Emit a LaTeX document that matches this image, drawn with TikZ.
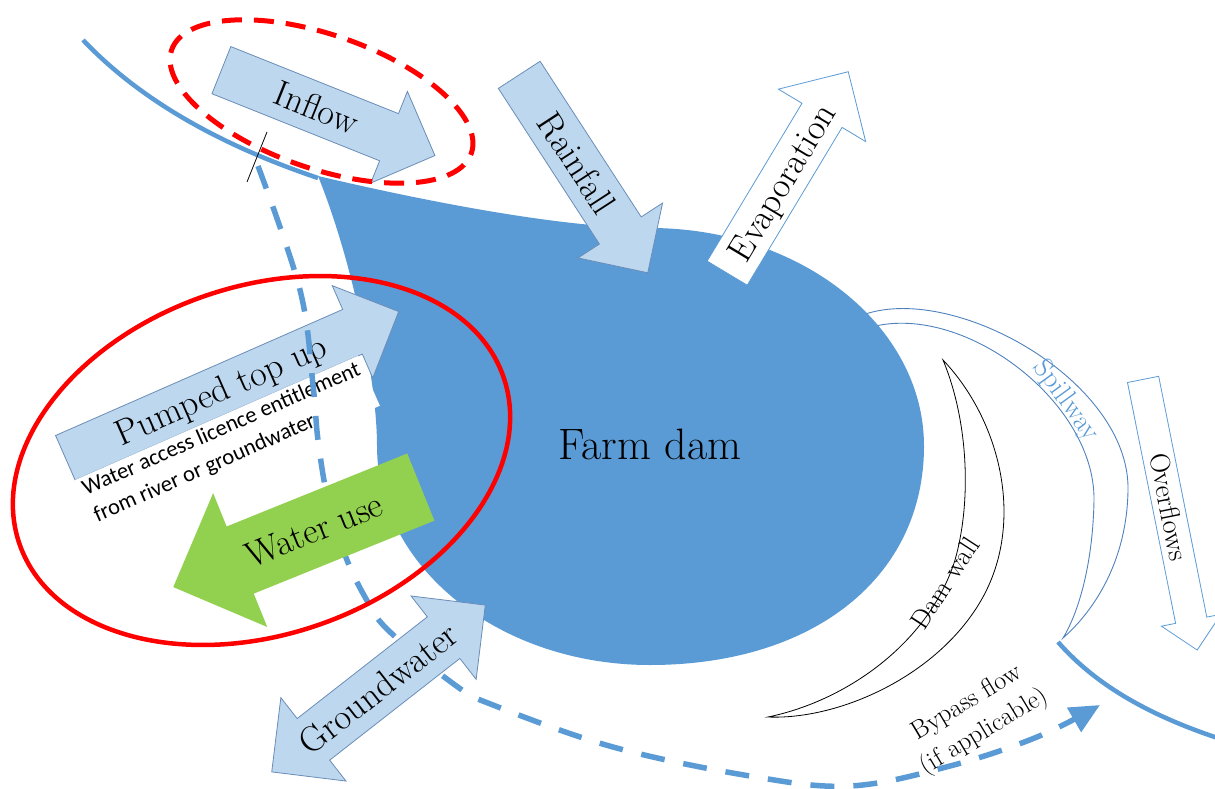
\documentclass[tikz,border=0pt]{standalone}
\usepackage{fontspec}
\newfontfamily\notefont{Carlito}
\usetikzlibrary{arrows.meta,shapes.arrows,shapes.geometric,calc}

\definecolor{damblue}{HTML}{5B9BD5}
\definecolor{paleblue}{HTML}{BDD7EE}
\definecolor{edgeblue}{HTML}{6A8DB8}
\definecolor{usegreen}{HTML}{92D050}
\definecolor{lineblue}{HTML}{4F81BD}

\newcommand{\flowfont}{\fontsize{36}{40}\selectfont}
\newcommand{\smallflowfont}{\fontsize{28}{32}\selectfont}

\begin{document}
\begin{tikzpicture}[x=1pt,y=-1pt,
    river/.style={draw=damblue,line width=4.5pt},
    bypass/.style={draw=damblue,line width=5.5pt,dash pattern=on 24pt off 19pt},
    ring/.style={ellipse,draw=red,inner sep=0pt,line width=4.5pt}]
\useasboundingbox (0,0) rectangle (1215,789);

% spillway channel, partly under the dam
\draw[lineblue,line width=0.9pt]
    (860,316) .. controls (950,280) and (1130,380) .. (1128,490)
              .. controls (1127,560) and (1095,610) .. (1063,638)
              .. controls (1080,610) and (1093,560) .. (1094,500)
              .. controls (1095,400) and (960,300) .. (868,328);

% river
\draw[river] (83,40) .. controls (140,100) and (220,145) .. (318,178);
\draw[river] (1058,642) .. controls (1100,690) and (1160,720) .. (1230,742);

% farm dam
\fill[damblue] (318,176) .. controls (420,200) and (560,228) .. (650,228)
    .. controls (801,228) and (924,326) .. (924,446)
    .. controls (924,577) and (814,665) .. (650,665)
    .. controls (499,665) and (377,567) .. (377,446)
    .. controls (377,380) and (352,260) .. cycle;
\node[font=\fontsize{44}{48}\selectfont] (dam) at (650,444) {Farm dam};

% dam wall
\draw[fill=white,line width=0.8pt] (943,360) .. controls (1000,420) and (1025,520) .. (983,597)
    .. controls (940,675) and (840,720) .. (768,717)
    .. controls (850,700) and (930,640) .. (955,560)
    .. controls (972,500) and (968,420) .. cycle;
\node[rotate=57,font=\fontsize{27}{30}\selectfont] (wall) at (945,583) {Dam wall};
\node[rotate=-54,font=\smallflowfont] (spill) at (1066,401) {\textcolor{damblue}{Spillway}};

% flows in and out
\begin{scope}[every node/.style={single arrow,single arrow tip angle=90,draw=edgeblue,
              fill=paleblue,line width=0.8pt,inner ysep=0pt,inner xsep=2pt,font=\flowfont}]
    \node[rotate=-21.8,anchor=tail,minimum height=230pt,single arrow head extend=24pt,
          text height=37pt,text depth=13pt] (inflow) at (221,70) {Inflow};
    \node[rotate=-57,anchor=tail,minimum height=236pt,single arrow head extend=25.5pt,
          text height=36.5pt,text depth=12.5pt] (rain) at (519,74.5) {Rainfall};
    \node[rotate=59,anchor=tail,minimum height=235pt,single arrow head extend=27.5pt,
          text height=35pt,text depth=11pt,fill=white,draw=damblue] (evap) at (727,273.5) {Evaporation};
    \node[rotate=-78.7,anchor=tail,minimum height=276pt,single arrow head extend=14.5pt,
          text height=24.5pt,text depth=6.5pt,fill=white,draw=damblue,font=\smallflowfont] (over) at (1143,379) {Overflows};
    \node[rotate=23.7,anchor=tail,minimum height=364pt,single arrow head extend=26pt,
          text height=36pt,text depth=12pt] (pump) at (65,458) {Pumped top up};
\end{scope}

\node[rotate=23.7,anchor=north west,fill=white,inner xsep=4pt,inner ysep=3pt,align=left,
      font={\notefont\fontsize{22.5}{29}\selectfont}] (licence)
      at ($(pump.tail)!24pt!-90:(pump.tip)$)
      {Water access licence entitlement\\from river or groundwater};

% bypass flow
\coordinate (offtake) at (258,166);
\coordinate (bypassend) at (1100,705);
\draw[bypass,-{Triangle[length=30pt,width=27pt]}] plot[smooth,tension=0.6] coordinates
    {(offtake) (300,290) (313,385) (318,440) (328,500) (345,555) (365,597) (388,630)
     (455,685) (493,705) (613,747) (750,776) (850,786) (950,766) (1037,737) (bypassend)};
\draw[line width=0.8pt] (267,132) -- (247,182);

\node[single arrow,single arrow tip angle=90,shape border rotate=180,fill=usegreen,
      rotate=22,anchor=tail,minimum height=267pt,single arrow head extend=36pt,
      inner ysep=0pt,inner xsep=2pt,text height=48pt,text depth=24pt,font=\flowfont]
      (use) at (421,487) {Water use};

\node[double arrow,double arrow tip angle=90,draw=edgeblue,fill=paleblue,line width=0.8pt,
      rotate=38,minimum height=271pt,double arrow head extend=26.5pt,inner ysep=0pt,
      inner xsep=2pt,text height=38pt,text depth=14pt,font=\flowfont]
      (ground) at (378.5,688.5) {Groundwater};

\node[rotate=31,align=center,font=\fontsize{26}{34}\selectfont] (bypasstext) at (976,718)
      {Bypass flow\\(if applicable)};

% highlighted flows
\node[ring,dash pattern=on 20pt off 12pt,line width=5pt,minimum width=317pt,minimum height=134pt,
      rotate=-19] (inflowring) at (321.5,101.5) {};
\node[ring,minimum width=512pt,minimum height=348pt,rotate=19] (topupring) at (261.5,460.5) {};
\end{tikzpicture}
\end{document}
